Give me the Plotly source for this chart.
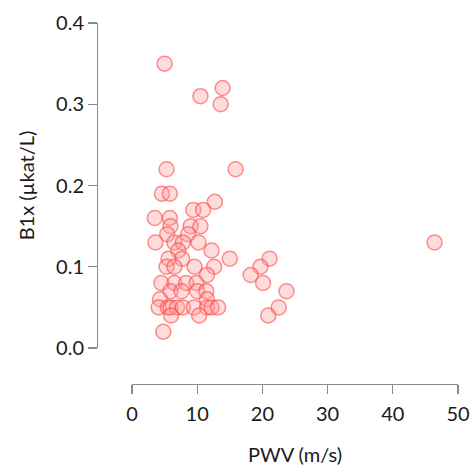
import plotly.graph_objects as go

pwv = [5.0, 10.5, 13.9, 13.6, 5.3, 15.9, 4.6, 5.8, 12.7, 9.4, 10.9, 3.5, 5.8, 5.9, 9.0, 10.5,
       5.4, 8.6, 3.6, 6.5, 7.8, 10.2, 7.1, 12.2, 7.7, 5.6, 15.0, 5.3, 6.5, 9.6, 12.6, 11.5,
       4.5, 6.5, 8.3, 9.9, 5.9, 7.6, 10.0, 11.4, 4.3, 11.5, 4.1, 5.5, 5.9, 6.9, 7.8, 9.5,
       11.5, 12.2, 13.2, 6.0, 10.3, 4.8, 46.4, 21.1, 19.7, 18.2, 20.1, 23.7, 22.5, 20.9]
b1x = [0.35, 0.31, 0.32, 0.30, 0.22, 0.22, 0.19, 0.19, 0.18, 0.17, 0.17, 0.16, 0.16, 0.15, 0.15, 0.15,
       0.14, 0.14, 0.13, 0.13, 0.13, 0.13, 0.12, 0.12, 0.11, 0.11, 0.11, 0.10, 0.10, 0.10, 0.10, 0.09,
       0.08, 0.08, 0.08, 0.08, 0.07, 0.07, 0.07, 0.07, 0.06, 0.06, 0.05, 0.05, 0.05, 0.05, 0.05, 0.05,
       0.05, 0.05, 0.05, 0.04, 0.04, 0.02, 0.13, 0.11, 0.10, 0.09, 0.08, 0.07, 0.05, 0.04]

x_ticks = [0, 10, 20, 30, 40, 50]
y_ticks = [0.0, 0.1, 0.2, 0.3, 0.4]

fig = go.Figure(go.Scatter(
    x=pwv, y=b1x, mode="markers", cliponaxis=False,
    marker=dict(size=15, color="rgba(255,150,150,0.33)",
                line=dict(color="rgba(255,70,70,0.6)", width=1.5)),
))

font = dict(family="Lato, 'Open Sans', sans-serif", size=20, color="#1a1a1a")
axis_common = dict(showline=True, linecolor="#8a8a8a", linewidth=1.2, ticks="outside",
                   ticklen=9, tickcolor="#8a8a8a", tickwidth=1.2, showgrid=False,
                   zeroline=False, tickfont=font, automargin=False)

fig.update_layout(
    width=473, height=466,
    margin=dict(l=97, r=15, t=23, b=82, pad=0, autoexpand=False),
    plot_bgcolor="white", paper_bgcolor="white",
    showlegend=False,
    xaxis=dict(range=[0, 50], domain=[35 / 361, 1], anchor="free", position=0,
               tickvals=x_ticks, ticklabelstandoff=3,
               title=dict(text="PWV (m/s)", font=font, standoff=26),
               **axis_common),
    yaxis=dict(range=[0, 0.4], domain=[36 / 361, 1], anchor="free", position=0,
               tickvals=y_ticks, tickformat=".1f",
               title=dict(text="B1x (µkat/L)", font=font, standoff=14),
               **axis_common),
)

fig.write_html("out.html",
               config={"displayModeBar": False, "staticPlot": True},
               post_script="document.body.style.margin='0';document.body.style.overflow='hidden';")
